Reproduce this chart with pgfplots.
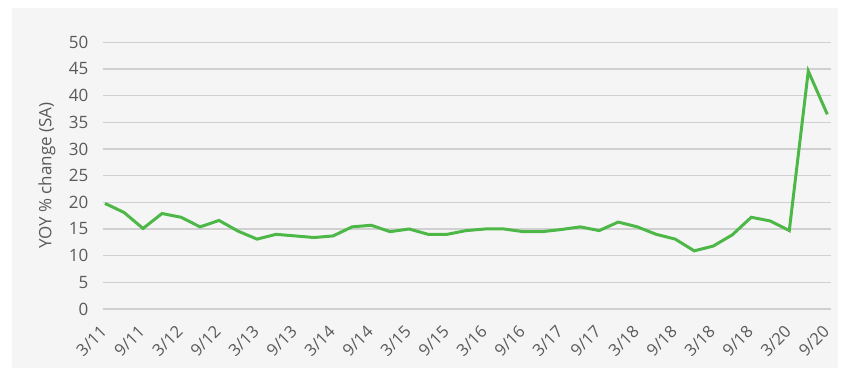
\documentclass[border=0pt]{standalone}
\usepackage{pgfplots}
\pgfplotsset{compat=1.18}
\usepackage{fontspec}
\setmainfont{Open Sans}
\definecolor{bgc}{HTML}{F5F5F5}
\definecolor{gridc}{HTML}{D0D0D0}
\definecolor{linec}{HTML}{4DB848}
\definecolor{txt}{HTML}{5A5A5A}
\begin{document}
\begin{tikzpicture}[x=1pt,y=1pt]
\useasboundingbox (0,0) rectangle (424,188);
\fill[white] (0,0) rectangle (424,188);
\fill[bgc] (6,4) rectangle (419,184);
\begin{axis}[
  at={(51.65pt,33.5pt)}, anchor=south west,
  scale only axis, width=363.9pt, height=133.35pt,
  xmin=-0.09, xmax=38.2, ymin=0, ymax=50,
  axis line style={draw=none}, tick style={draw=none},
  ymajorgrids, grid style={gridc, line width=0.6pt},
  ytick={0,5,...,50},
  xtick={0,2,...,38},
  xticklabels={3/11,9/11,3/12,9/12,3/13,9/13,3/14,9/14,3/15,9/15,3/16,9/16,3/17,9/17,3/18,9/18,3/18,9/18,3/20,9/20},
  x tick label style={xshift=-2.8pt, yshift=-2.8pt, rotate=45, anchor=north east, font=\fontsize{8.3}{9}\selectfont, text=txt},
  y tick label style={font=\fontsize{8.5}{9}\selectfont, text=txt, xshift=-4pt},
  /pgf/number format/assume math mode=true,
  ylabel={YOY \% change (SA)},
  ylabel style={at={(axis description cs:-0.0774,0.5)}, anchor=center, font=\fontsize{8.5}{9}\selectfont, text=txt},
]
\addplot[linec, line width=1.5pt] table {
x y
0 19.8
1 18.1
2 15.1
3 17.9
4 17.2
5 15.4
6 16.6
7 14.6
8 13.1
9 14.0
10 13.7
11 13.4
12 13.7
13 15.4
14 15.7
15 14.5
16 15.0
17 14.0
18 14.0
19 14.7
20 15.0
21 15.0
22 14.5
23 14.5
24 14.9
25 15.4
26 14.7
27 16.3
28 15.4
29 14.0
30 13.1
31 10.9
32 11.8
33 13.9
34 17.2
35 16.5
36 14.7
37 44.6
38 36.5
};
\end{axis}
\end{tikzpicture}
\end{document}
